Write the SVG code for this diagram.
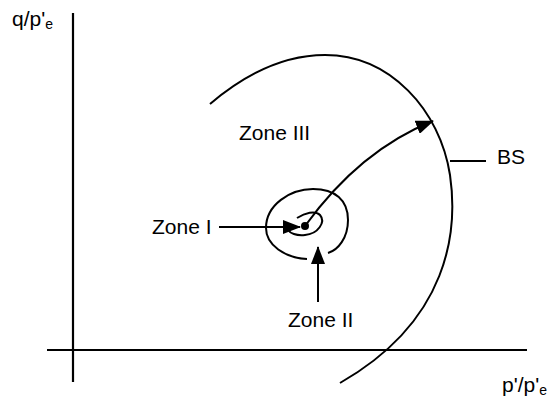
<svg xmlns="http://www.w3.org/2000/svg" width="547" height="403" viewBox="0 0 547 403">
<style>
.ln{fill:none;stroke:#000;stroke-width:2}
.ax{fill:none;stroke:#000;stroke-width:2.2}
.t{font-family:"Liberation Sans",Arial,sans-serif;font-size:21px;fill:#000}
.s{font-size:14px}
</style>
<defs>
<marker id="ah" viewBox="0 0 18 14" refX="17" refY="7" markerWidth="18" markerHeight="14" markerUnits="userSpaceOnUse" orient="auto">
<path d="M0,0 L18,7 L0,14 Z" fill="#000"/>
</marker>
</defs>
<g id="axes">
<line class="ax" x1="73" y1="13" x2="73" y2="382"/>
<line class="ax" x1="47" y1="350" x2="527" y2="350"/>
<text class="t" x="12" y="26">q/p'<tspan class="s" dy="3">e</tspan></text>
<text class="t" x="502" y="392">p'/p'<tspan class="s" dy="3">e</tspan></text>
</g>
<g id="bs">
<path class="ln" d="M210,104 C250,70 290,55 325,55 C390,55 440,110 450,175 C458,230 450,320 340,383"/>
<line class="ln" x1="450" y1="161" x2="486" y2="161"/>
<text class="t" x="497" y="164">BS</text>
</g>
<g id="zone3">
<text class="t" x="239" y="140">Zone III</text>
</g>
<g id="zone2">
<path class="ln" d="M307,259 C285,258 266,245 266,228 C266,205 290,189 313,189 C335,189 348,200 348,220 C348,238 338,250 328,253"/>
<text class="t" x="288" y="327">Zone II</text>
</g>
<g id="zone1">
<path class="ln" d="M297,218 C305,213 315,210 320,215 C326,222 318,234 305,235 C296,236 290,233 288,230"/>
<circle cx="305" cy="226" r="4" fill="#000"/>
<text class="t" x="152" y="234">Zone I</text>
</g>
<g id="connectors">
<line class="ln" x1="219" y1="227" x2="300" y2="227" marker-end="url(#ah)"/>
<line class="ln" x1="318" y1="302" x2="318" y2="247" marker-end="url(#ah)"/>
<path class="ln" d="M305,226 Q360,150 433,121" marker-end="url(#ah)"/>
</g>
</svg>
